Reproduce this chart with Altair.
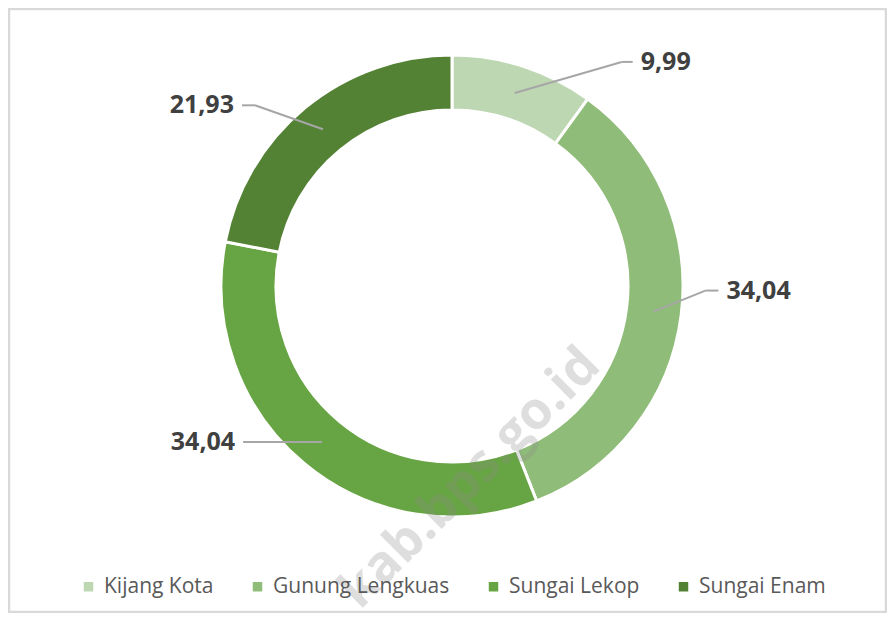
import altair as alt
import pandas as pd

# ---- data ----
categories = ["Kijang Kota", "Gunung Lengkuas", "Sungai Lekop", "Sungai Enam"]
values = [9.99, 34.04, 34.04, 21.93]
labels = ["9,99", "34,04", "34,04", "21,93"]
colors = ["#BDD7B3", "#8FBC78", "#67A443", "#548235"]
watermark = ["kab.bps.go.id"]

# ---- layout of the leader lines (pixel offsets, not data) ----
elbow_dx = [107, 52, -79, -68]
elbow_dy = [-31, -21, 0, -24]
tail = [11, 13, 0, -13]

W, H = 879, 605
CX, CY = 444, 278
R_OUT, R_IN = 231, 176
R_MID = 203

df = pd.DataFrame({
    "cat": categories,
    "value": values,
    "label": labels,
    "idx": list(range(len(categories))),
    "edx": elbow_dx,
    "edy": elbow_dy,
    "tail": tail,
})

base = alt.Chart(df)

arcs = base.mark_arc(
    innerRadius=R_IN, outerRadius=R_OUT, stroke="white", strokeWidth=3
).encode(
    theta=alt.Theta("value:Q", stack=True),
    order=alt.Order("idx:Q"),
    x=alt.value(CX),
    y=alt.value(CY),
    color=alt.Color(
        "cat:N",
        sort=categories,
        scale=alt.Scale(domain=categories, range=colors),
        legend=alt.Legend(
            orient="none",
            legendX=70,
            legendY=568,
            direction="horizontal",
            title=None,
            symbolType="square",
            symbolSize=90,
            symbolStrokeWidth=0,
            labelFont="Open Sans",
            labelFontSize=21,
            labelColor="#595959",
            labelOffset=5,
            labelLimit=400,
            columnPadding=33,
        ),
    ),
)

geo = (
    base.transform_window(cum="sum(value)", sort=[alt.SortField("idx")], frame=[None, 0])
    .transform_joinaggregate(total="sum(value)")
    .transform_calculate(
        mid="(datum.cum - datum.value/2) / datum.total * 2 * PI",
        ax=f"{CX} + {R_MID} * sin(datum.mid)",
        ay=f"{CY} - {R_MID} * cos(datum.mid)",
        ex="datum.ax + datum.edx",
        ey="datum.ay + datum.edy",
        tx="datum.ex + datum.tail",
        side="datum.mid > PI ? -1 : 1",
        lx="datum.tx + datum.side * 8",
    )
)

line_col = "#A6A6A6"
rule1 = geo.mark_rule(color=line_col, strokeWidth=2).encode(
    x=alt.X("ax:Q", scale=None, axis=None),
    y=alt.Y("ay:Q", scale=None, axis=None),
    x2="ex:Q",
    y2="ey:Q",
)
rule2 = geo.mark_rule(color=line_col, strokeWidth=2).encode(
    x=alt.X("ex:Q", scale=None, axis=None),
    y=alt.Y("ey:Q", scale=None, axis=None),
    x2="tx:Q",
    y2="ey:Q",
)

txt_style = dict(font="Open Sans", fontWeight="bold", fontSize=25, color="#404040", baseline="middle")
text_r = geo.transform_filter("datum.side > 0").mark_text(align="left", **txt_style).encode(
    x=alt.X("lx:Q", scale=None, axis=None),
    y=alt.Y("ey:Q", scale=None, axis=None),
    text="label:N",
)
text_l = geo.transform_filter("datum.side < 0").mark_text(align="right", **txt_style).encode(
    x=alt.X("lx:Q", scale=None, axis=None),
    y=alt.Y("ey:Q", scale=None, axis=None),
    text="label:N",
)

wm = alt.Chart(pd.DataFrame({"wm": watermark})).mark_text(
    angle=315, font="Open Sans", fontWeight="bold", fontSize=52,
    color="#8C8C8C", opacity=0.28, align="center", baseline="middle",
).encode(text="wm:N", x=alt.value(462), y=alt.value(470))

border = alt.Chart(pd.DataFrame({"b": [1]})).mark_rect(
    fillOpacity=0, stroke="#D9D9D9", strokeWidth=2.5
).encode(
    x=alt.value(1), x2=alt.value(W - 1), y=alt.value(1), y2=alt.value(H - 1),
    detail="b:N",
)

chart = alt.layer(border, arcs, rule1, rule2, text_r, text_l, wm).properties(
    width=W, height=H, padding=0, autosize="none"
).configure_view(stroke=None)

chart.save("out.html", embed_options={"renderer": "svg", "actions": False})
